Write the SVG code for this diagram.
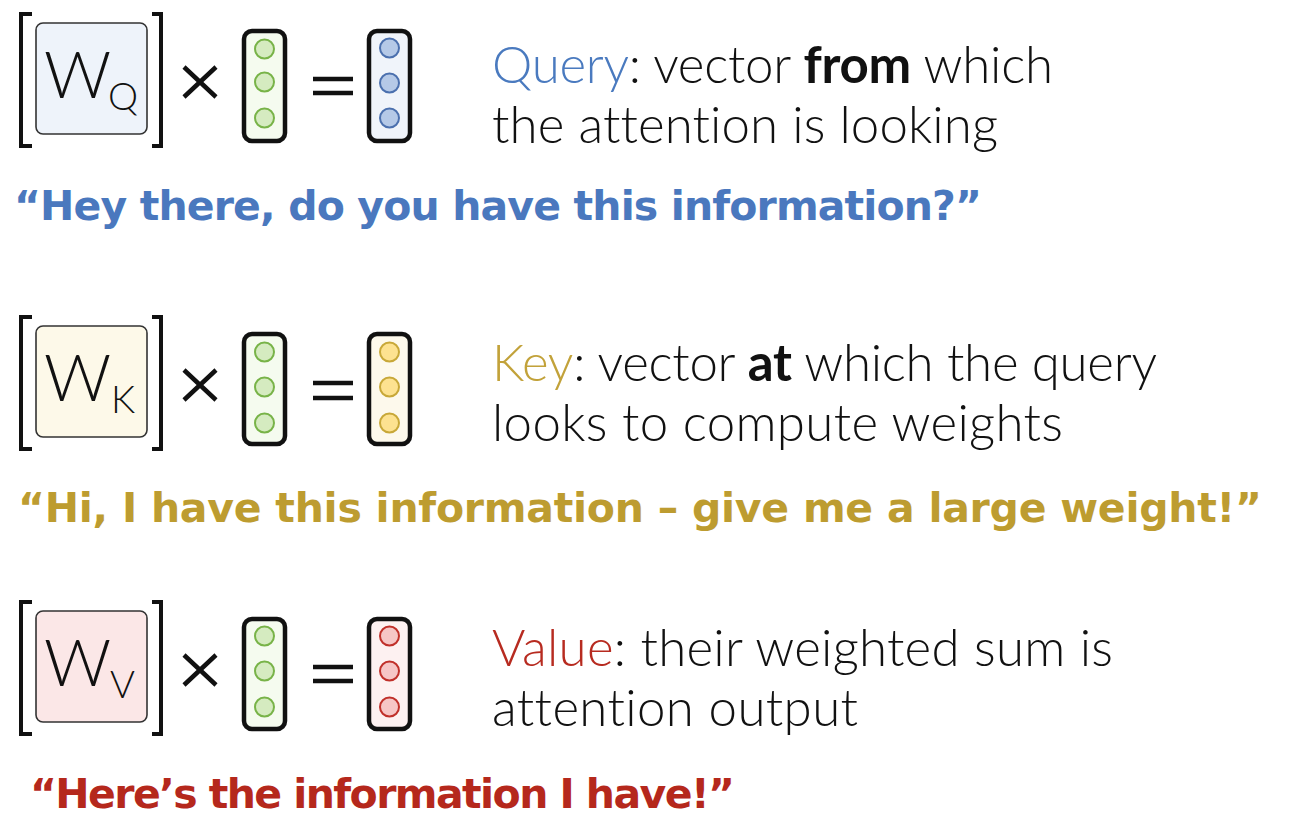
<svg xmlns="http://www.w3.org/2000/svg" width="1294" height="828" viewBox="0 0 1294 828">
<style>
.br{fill:none;stroke:#111;stroke-width:4}
.mat{stroke:#333;stroke-width:1.6}
.vec{stroke:#111;stroke-width:4.5}
.op{fill:none;stroke:#111;stroke-width:4.5}
.w{font-family:Lato,"Open Sans",sans-serif;font-weight:300;fill:#111}
.txt{font-family:Lato,"Open Sans",sans-serif;font-weight:300;font-size:51px;fill:#111;font-variant-ligatures:none}
.b{font-weight:700}
.q{font-family:"DejaVu Sans",sans-serif;font-weight:700;font-size:41px}
.gc{fill:#d5ebc0;stroke:#78b348;stroke-width:2}
.bc{fill:#b5c9e7;stroke:#4b70ae;stroke-width:2}
.yc{fill:#fde290;stroke:#c8a838;stroke-width:2}
.rc{fill:#f6c6c6;stroke:#c0302a;stroke-width:2}
</style>
<rect width="1294" height="828" fill="#fff"/>
<g id="query">
<path class="br" d="M32,14 H21 V146 H32 M152,14 H161 V146 H152"/>
<rect class="mat" x="36" y="23" width="111" height="111" rx="7" fill="#eef3fa"/>
<text class="w" x="44" y="98" font-size="66">W</text>
<text class="w" x="108" y="110" font-size="38">Q</text>
<path class="op" d="M184,67 L216,97 M216,67 L184,97"/>
<rect class="vec" x="244" y="31" width="41" height="110" rx="8" fill="#f5fbef"/>
<circle class="gc" cx="264.5" cy="49" r="9.5"/><circle class="gc" cx="264.5" cy="82" r="9.5"/><circle class="gc" cx="264.5" cy="118" r="9.5"/>
<path class="op" d="M313,79 H353 M313,93 H353"/>
<rect class="vec" x="369" y="31" width="41" height="110" rx="8" fill="#f0f4fa"/>
<circle class="bc" cx="389.5" cy="48" r="9.5"/><circle class="bc" cx="389.5" cy="83" r="9.5"/><circle class="bc" cx="389.5" cy="118" r="9.5"/>
<text class="txt" x="492" y="83" textLength="561"><tspan fill="#4a7abf">Query</tspan>: vector <tspan class="b">from</tspan> which</text>
<text class="txt" x="492" y="143" textLength="506">the attention is looking</text>
<text class="q" x="14" y="220" fill="#4a78be" textLength="968">“Hey there, do you have this information?”</text>
</g>
<g id="key">
<g transform="translate(0,303)">
<path class="br" d="M32,14 H21 V146 H32 M152,14 H161 V146 H152"/>
<rect class="mat" x="36" y="23" width="111" height="111" rx="7" fill="#fdf9e9"/>
<text class="w" x="44" y="98" font-size="66">W</text>
<text class="w" x="111" y="110" font-size="38">K</text>
<path class="op" d="M184,67 L216,97 M216,67 L184,97"/>
<rect class="vec" x="244" y="31" width="41" height="110" rx="8" fill="#f5fbef"/>
<circle class="gc" cx="264.5" cy="49" r="9.5"/><circle class="gc" cx="264.5" cy="84" r="9.5"/><circle class="gc" cx="264.5" cy="120" r="9.5"/>
<path class="op" d="M313,80 H353 M313,95 H353"/>
<rect class="vec" x="369" y="31" width="41" height="110" rx="8" fill="#fdf9ec"/>
<circle class="yc" cx="389.5" cy="49" r="9.5"/><circle class="yc" cx="389.5" cy="84" r="9.5"/><circle class="yc" cx="389.5" cy="120" r="9.5"/>
</g>
<text class="txt" x="492" y="381" textLength="665"><tspan fill="#c2a23a">Key</tspan>: vector <tspan class="b">at</tspan> which the query</text>
<text class="txt" x="492" y="441" textLength="571">looks to compute weights</text>
<text class="q" x="18" y="522" fill="#bd9c30" textLength="1244">“Hi, I have this information – give me a large weight!”</text>
</g>
<g id="value">
<g transform="translate(0,588)">
<path class="br" d="M32,14 H21 V146 H32 M152,14 H161 V146 H152"/>
<rect class="mat" x="36" y="23" width="111" height="111" rx="7" fill="#fbe7e7"/>
<text class="w" x="44" y="98" font-size="66">W</text>
<text class="w" x="110" y="110" font-size="38">V</text>
<path class="op" d="M184,67 L216,97 M216,67 L184,97"/>
<rect class="vec" x="244" y="31" width="41" height="110" rx="8" fill="#f5fbef"/>
<circle class="gc" cx="264.5" cy="48" r="9.5"/><circle class="gc" cx="264.5" cy="83" r="9.5"/><circle class="gc" cx="264.5" cy="119" r="9.5"/>
<path class="op" d="M313,79 H353 M313,93 H353"/>
<rect class="vec" x="369" y="31" width="41" height="110" rx="8" fill="#fdf1f1"/>
<circle class="rc" cx="389.5" cy="48" r="9.5"/><circle class="rc" cx="389.5" cy="83" r="9.5"/><circle class="rc" cx="389.5" cy="119" r="9.5"/>
</g>
<text class="txt" x="492" y="666" textLength="621"><tspan fill="#b72b20">Value</tspan>: their weighted sum is</text>
<text class="txt" x="492" y="726" textLength="366">attention output</text>
<text class="q" x="30" y="808" fill="#b5281c" textLength="705">“Here’s the information I have!”</text>
</g>
</svg>
